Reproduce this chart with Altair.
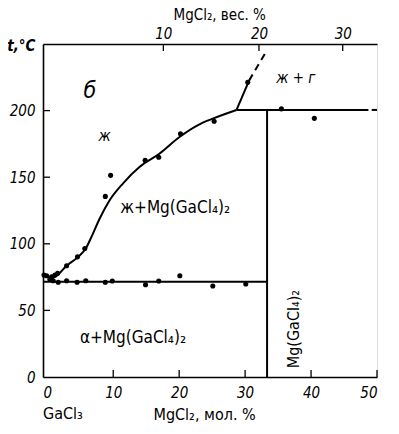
import altair as alt
import pandas as pd

# ---- data (x = MgCl2 mol.%, t = °C) ----
liq_x = [-0.6, 0.7, 1.2, 2.93, 4.68, 5.84, 6.7, 7.95, 9.46, 11.46, 13.98, 16.99, 20.0, 23.0, 25.0, 28.7]
liq_t = [76.5, 74.5, 75.3, 83.5, 90.2, 96.5, 105.2, 119.0, 132.7, 145.2, 157.6, 167.6, 180.0, 189.5, 193.8, 200.5]

pts_x = [-0.5, -0.1, 0.66, 1.16, 1.57, 2.93, 4.58, 5.69, 8.8, 9.6, 14.84, 16.9, 20.2, 25.3, 30.4, 35.5, 40.5,
         0.4, 0.9, 1.66, 2.93, 4.52, 5.84, 8.8, 9.86, 14.9, 16.9, 20.1, 25.1, 30.1]
pts_t = [76.5, 76.0, 75.3, 76.5, 77.8, 83.5, 90.2, 96.5, 135.6, 151.4, 162.6, 165.0, 182.6, 192.0, 221.2, 201.3, 194.2,
         73.3, 72.3, 71.1, 72.3, 71.1, 72.3, 71.1, 72.1, 69.3, 72.1, 76.0, 68.3, 69.8]

solid_seg = ["sol", "sol", "per", "per", "vert", "vert", "up", "up"]
solid_x = [-0.65, 33.33, 28.7, 48.7, 33.33, 33.33, 28.7, 30.6]
solid_t = [71.5, 71.5, 200.5, 200.5, 0, 200.5, 200.5, 222.5]

dash_seg = ["up", "up", "per", "per"]
dash_x = [30.6, 33.1, 49.2, 50.0]
dash_t = [222.5, 243.6, 200.5, 200.5]

bottom_ticks = [0, 10, 20, 30, 40, 50]
left_ticks = [0, 50, 100, 150, 200]
top_tick_pos = [17.6, 32.1, 44.8]      # mol.% positions of 10, 20, 30 wt.%
top_tick_lab = ["10", "20", "30"]

lab_text = ["б", "ж", "ж + г", "ж+Mg(GaCl₄)₂", "α+Mg(GaCl₄)₂"]
lab_x = [6.45, 8.7, 37.7, 19.4, 13.0]
lab_t = [215, 181, 224.7, 126.6, 29.4]
lab_size = [23, 15, 15, 17, 17]
lab_style = ["italic", "italic", "italic", "normal", "normal"]

W, H = 334, 333
XD = [-0.65, 50.0]
YD = [0, 250]
FONT = "DejaVu Sans Condensed, DejaVu Sans"

xs = alt.Scale(domain=XD, nice=False, zero=False)
ys = alt.Scale(domain=YD, nice=False, zero=False)

base_x_axis = alt.Axis(orient="bottom", values=bottom_ticks, ticks=False, grid=False, domainColor="black",
                       domainWidth=1.6, labelFont=FONT, labelFontStyle="italic", labelFontSize=15,
                       labelColor="black", labelPadding=8, title="MgCl₂, мол. %", titleFont=FONT,
                       titleFontSize=16, titleFontWeight="normal", titleColor="black", titleAlign="left",
                       titleAnchor="start", titleX=110, titleY=42, titleBaseline="alphabetic")
base_y_axis = alt.Axis(values=left_ticks, ticks=False, grid=False, domainColor="black", domainWidth=1.6,
                       labelFont=FONT, labelFontStyle="italic", labelFontSize=15, labelColor="black",
                       labelPadding=8, title="t,°C", titleFont=FONT, titleFontSize=15, titleFontStyle="italic",
                       titleFontWeight="bold", titleColor="black", titleAngle=0, titleAlign="right",
                       titleX=-8, titleY=6, titleBaseline="alphabetic")


def X(field="x"):
    return alt.X(f"{field}:Q", scale=xs, axis=None)


def Y(field="t"):
    return alt.Y(f"{field}:Q", scale=ys, axis=base_y_axis)


liq = pd.DataFrame({"x": liq_x, "t": liq_t})
liq_layer = alt.Chart(liq).mark_line(color="black", strokeWidth=2, interpolate="monotone").encode(
    x=alt.X("x:Q", scale=xs, axis=base_x_axis),
    y=Y(),
)

solid_df = pd.DataFrame({"seg": solid_seg, "x": solid_x, "t": solid_t})
solid_layer = alt.Chart(solid_df).mark_line(color="black", strokeWidth=2).encode(
    x=X(), y=Y(), detail="seg:N")

dash_df = pd.DataFrame({"seg": dash_seg, "x": dash_x, "t": dash_t})
dash_layer = alt.Chart(dash_df).mark_line(color="black", strokeWidth=2, strokeDash=[7, 5]).encode(
    x=X(), y=Y(), detail="seg:N")

pts = pd.DataFrame({"x": pts_x, "t": pts_t})
pts_layer = alt.Chart(pts).mark_circle(color="black", size=26, opacity=1).encode(x=X(), y=Y())

labs = pd.DataFrame({"text": lab_text, "x": lab_x, "t": lab_t})
text_layers = []
for i in range(len(lab_text)):
    sub = labs.iloc[[i]]
    text_layers.append(
        alt.Chart(sub).mark_text(font=FONT, fontSize=lab_size[i], fontStyle=lab_style[i], color="black",
                                 align="center", baseline="middle").encode(x=X(), y=Y(), text="text:N"))

vert_lab = pd.DataFrame({"text": ["Mg(GaCl₄)₂"], "x": [37.4], "t": [36.0]})
vert_layer = alt.Chart(vert_lab).mark_text(font=FONT, fontSize=16, angle=270, color="black",
                                           align="center", baseline="middle").encode(
    x=X(), y=Y(), text="text:N")

gacl = pd.DataFrame({"text": ["GaCl₃"]})
gacl_layer = alt.Chart(gacl).mark_text(font=FONT, fontSize=16, color="black", align="left",
                                       baseline="alphabetic").encode(
    x=alt.value(0), y=alt.value(H + 42), text="text:N")

bt = pd.DataFrame({"x": bottom_ticks[1:]})
bt_layer = alt.Chart(bt).mark_rule(color="black", strokeWidth=1.3).encode(
    x=X(), y=alt.value(H), y2=alt.value(H - 7))

lt = pd.DataFrame({"t": left_ticks[1:]})
lt_layer = alt.Chart(lt).mark_rule(color="black", strokeWidth=1.3).encode(
    y=Y(), x=alt.value(0), x2=alt.value(7))

tt = pd.DataFrame({"x": top_tick_pos})
tt_layer = alt.Chart(tt).mark_rule(color="black", strokeWidth=1.3).encode(
    x=X(), y=alt.value(0), y2=alt.value(7))

label_expr = "datum.value < 25 ? '10' : (datum.value < 40 ? '20' : '30')"
top_axis_layer = alt.Chart(tt).mark_point(opacity=0).encode(
    x=alt.X("x:Q", scale=alt.Scale(domain=XD, nice=False, zero=False),
            axis=alt.Axis(orient="top", values=top_tick_pos, labelExpr=label_expr, ticks=False, grid=False,
                          domainColor="black", domainWidth=1.6, labelFont=FONT, labelFontStyle="italic",
                          labelFontSize=15, labelColor="black", labelPadding=3,
                          title="MgCl₂, вес. %", titleFont=FONT, titleFontSize=15, titleFontWeight="normal",
                          titleColor="black", titleAlign="left", titleAnchor="start", titleX=130, titleY=-25,
                          titleBaseline="alphabetic")),
    y=alt.value(0),
)

chart = alt.layer(
    liq_layer, solid_layer, dash_layer, pts_layer, *text_layers, vert_layer, gacl_layer,
    bt_layer, lt_layer, tt_layer, top_axis_layer
).resolve_scale(x="independent").resolve_axis(x="independent").properties(
    width=W, height=H,
    autosize=alt.AutoSizeParams(type="none"),
    padding={"left": 35, "top": 36, "right": 12, "bottom": 48},
).configure_view(stroke=None).configure(background="white")

chart.save("out.html", embed_options={"renderer": "svg", "actions": False})
